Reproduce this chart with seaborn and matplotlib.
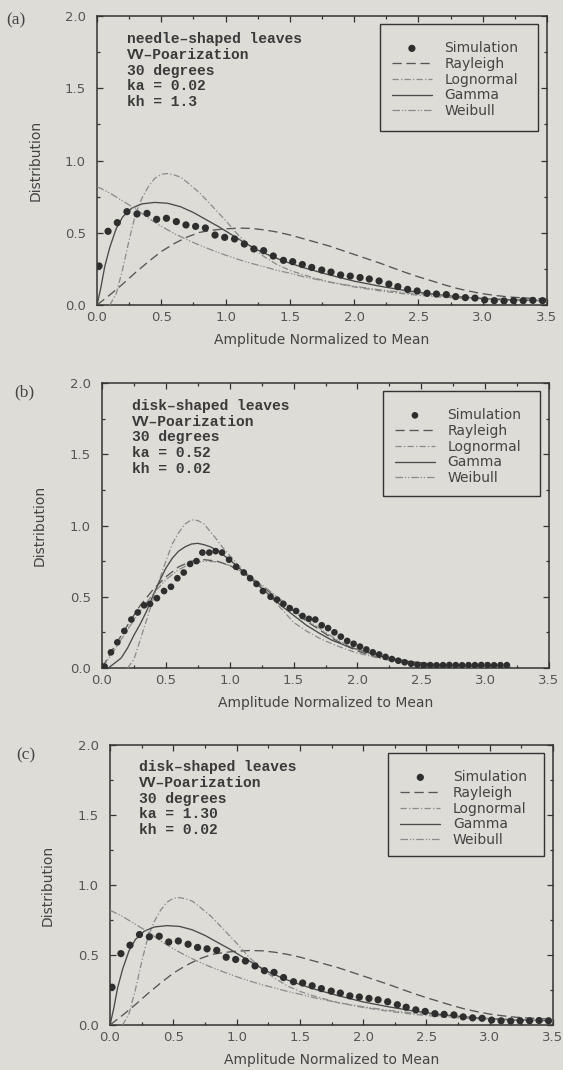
import matplotlib
matplotlib.use("Agg")
import matplotlib.pyplot as plt
import seaborn as sns
from matplotlib.patches import Rectangle
from matplotlib.ticker import MultipleLocator

# ---------------- data ----------------
# panel (a): needle-shaped leaves, ka = 0.02, kh = 1.3
sim_a_x = [0.016, 0.086, 0.158, 0.233, 0.311, 0.389, 0.464, 0.540, 0.617, 0.692,
           0.767, 0.843, 0.918, 0.993, 1.070, 1.146, 1.220, 1.296, 1.371, 1.450,
           1.522, 1.597, 1.670, 1.748, 1.820, 1.895, 1.970, 2.046, 2.118, 2.194,
           2.270, 2.340, 2.416, 2.490, 2.567, 2.640, 2.717, 2.790, 2.865, 2.940,
           3.015, 3.090, 3.166, 3.240, 3.315, 3.390, 3.465]
sim_a_y = [0.27, 0.51, 0.57, 0.646, 0.63, 0.634, 0.593, 0.600, 0.577, 0.554,
           0.544, 0.533, 0.484, 0.468, 0.457, 0.422, 0.388, 0.376, 0.339, 0.309,
           0.300, 0.280, 0.260, 0.242, 0.228, 0.208, 0.200, 0.190, 0.180, 0.166,
           0.145, 0.127, 0.108, 0.097, 0.081, 0.076, 0.072, 0.058, 0.051, 0.048,
           0.035, 0.030, 0.028, 0.030, 0.030, 0.032, 0.030]

ray_a_x = [0.0, 0.1, 0.2, 0.3, 0.4, 0.5, 0.6, 0.7, 0.8, 0.9, 1.0, 1.1, 1.2, 1.3,
           1.4, 1.5, 1.6, 1.7, 1.8, 1.9, 2.0, 2.1, 2.2, 2.3, 2.4, 2.5, 2.6, 2.7,
           2.8, 2.9, 3.0, 3.1, 3.2, 3.3, 3.4, 3.5]
ray_a_y = [0.0, 0.07, 0.145, 0.225, 0.30, 0.37, 0.425, 0.47, 0.503, 0.518, 0.527,
           0.532, 0.530, 0.520, 0.505, 0.485, 0.46, 0.435, 0.41, 0.38, 0.35, 0.32,
           0.29, 0.257, 0.225, 0.195, 0.168, 0.14, 0.115, 0.095, 0.078, 0.066,
           0.056, 0.05, 0.045, 0.042]

logn_a_x = [0.10, 0.15, 0.20, 0.25, 0.30, 0.35, 0.40, 0.45, 0.50, 0.55, 0.60, 0.65,
            0.70, 0.80, 0.90, 1.00, 1.10, 1.20, 1.30, 1.40, 1.50, 1.60, 1.80, 2.00,
            2.20, 2.40, 2.60, 2.80, 3.00, 3.20, 3.50]
logn_a_y = [0.0, 0.08, 0.25, 0.45, 0.63, 0.74, 0.82, 0.877, 0.905, 0.91, 0.90, 0.885,
            0.85, 0.775, 0.68, 0.585, 0.483, 0.40, 0.335, 0.28, 0.24, 0.21, 0.16, 0.125,
            0.098, 0.076, 0.06, 0.048, 0.04, 0.034, 0.028]

gam_a_x = [0.0, 0.03, 0.06, 0.10, 0.15, 0.20, 0.27, 0.35, 0.45, 0.55, 0.65, 0.75,
           0.85, 0.95, 1.05, 1.15, 1.25, 1.35, 1.45, 1.60, 1.80, 2.00, 2.20, 2.40,
           2.60, 2.80, 3.00, 3.20, 3.50]
gam_a_y = [0.0, 0.12, 0.265, 0.40, 0.53, 0.61, 0.67, 0.70, 0.71, 0.704, 0.68, 0.64,
           0.59, 0.54, 0.485, 0.43, 0.38, 0.34, 0.305, 0.26, 0.21, 0.165, 0.13, 0.10,
           0.076, 0.058, 0.045, 0.037, 0.03]

weib_a_x = [0.0, 0.1, 0.2, 0.3, 0.4, 0.5, 0.6, 0.7, 0.8, 0.9, 1.0, 1.1, 1.2, 1.3,
            1.4, 1.5, 1.6, 1.8, 2.0, 2.2, 2.4, 2.6, 2.8, 3.0, 3.2, 3.5]
weib_a_y = [0.82, 0.775, 0.72, 0.665, 0.60, 0.545, 0.495, 0.452, 0.413, 0.378, 0.345,
            0.315, 0.288, 0.265, 0.24, 0.22, 0.197, 0.16, 0.13, 0.105, 0.085, 0.068,
            0.055, 0.045, 0.037, 0.028]

# panel (b): disk-shaped leaves, ka = 0.52, kh = 0.02
sim_b_x = [0.02, 0.07, 0.12, 0.175, 0.23, 0.28, 0.33, 0.376, 0.43, 0.486, 0.54, 0.59,
           0.64, 0.69, 0.74, 0.786, 0.84, 0.89, 0.94, 0.995, 1.05, 1.11, 1.16, 1.21,
           1.26, 1.32, 1.37, 1.42, 1.47, 1.52, 1.57, 1.62, 1.67, 1.72, 1.77, 1.82,
           1.87, 1.92, 1.97, 2.02, 2.07, 2.12, 2.17, 2.22, 2.27, 2.32, 2.37, 2.42,
           2.47, 2.52, 2.57, 2.62, 2.67, 2.72, 2.77, 2.82, 2.87, 2.92, 2.97, 3.02,
           3.07, 3.12, 3.17]
sim_b_y = [0.01, 0.11, 0.18, 0.26, 0.34, 0.39, 0.44, 0.45, 0.49, 0.54, 0.57, 0.63,
           0.67, 0.73, 0.75, 0.81, 0.81, 0.82, 0.81, 0.76, 0.71, 0.67, 0.63, 0.59,
           0.54, 0.50, 0.48, 0.45, 0.42, 0.40, 0.365, 0.345, 0.34, 0.30, 0.28, 0.25,
           0.22, 0.19, 0.17, 0.15, 0.13, 0.11, 0.095, 0.078, 0.063, 0.051, 0.040, 0.030,
           0.023, 0.020, 0.020, 0.019, 0.020, 0.021, 0.020, 0.019, 0.020, 0.020, 0.021,
           0.020, 0.019, 0.020, 0.020]

ray_b_x = [0.0, 0.1, 0.2, 0.3, 0.4, 0.5, 0.6, 0.7, 0.8, 0.9, 1.0, 1.1, 1.2, 1.3, 1.4,
           1.5, 1.6, 1.7, 1.8, 1.9, 2.0, 2.1, 2.2, 2.3, 2.4, 2.5, 2.6, 2.7, 2.8, 2.9,
           3.0, 3.1, 3.2]
ray_b_y = [0.0, 0.155, 0.30, 0.44, 0.55, 0.64, 0.71, 0.75, 0.76, 0.75, 0.72, 0.67,
           0.61, 0.54, 0.47, 0.40, 0.33, 0.27, 0.21, 0.16, 0.12, 0.09, 0.067, 0.048,
           0.034, 0.024, 0.016, 0.011, 0.007, 0.005, 0.003, 0.002, 0.001]

logn_b_x = [0.20, 0.25, 0.30, 0.35, 0.40, 0.45, 0.50, 0.55, 0.60, 0.65, 0.70, 0.75,
            0.80, 0.85, 0.90, 0.95, 1.00, 1.10, 1.20, 1.30, 1.40, 1.50, 1.60, 1.70,
            1.80, 1.90, 2.00, 2.20, 2.40, 2.60, 2.80, 3.00, 3.20]
logn_b_y = [0.0, 0.06, 0.20, 0.34, 0.48, 0.62, 0.75, 0.87, 0.95, 1.01, 1.04, 1.035,
            1.01, 0.955, 0.90, 0.84, 0.79, 0.69, 0.61, 0.52, 0.42, 0.32, 0.26, 0.21,
            0.17, 0.135, 0.105, 0.062, 0.035, 0.02, 0.011, 0.006, 0.003]

gam_b_x = [0.05, 0.10, 0.15, 0.20, 0.25, 0.30, 0.35, 0.40, 0.45, 0.50, 0.55, 0.60,
           0.65, 0.70, 0.75, 0.80, 0.85, 0.90, 1.00, 1.10, 1.20, 1.30, 1.40, 1.50,
           1.60, 1.70, 1.80, 1.90, 2.00, 2.20, 2.40, 2.60, 2.80, 3.00, 3.20]
gam_b_y = [0.0, 0.035, 0.07, 0.14, 0.23, 0.31, 0.40, 0.51, 0.61, 0.70, 0.77, 0.82,
           0.85, 0.87, 0.875, 0.865, 0.85, 0.825, 0.76, 0.68, 0.60, 0.52, 0.44, 0.37,
           0.30, 0.245, 0.195, 0.16, 0.13, 0.078, 0.046, 0.026, 0.014, 0.008, 0.004]

weib_b_x = [0.0, 0.1, 0.2, 0.3, 0.4, 0.5, 0.6, 0.7, 0.8, 0.9, 1.0, 1.1, 1.2, 1.3, 1.4,
            1.5, 1.6, 1.7, 1.8, 1.9, 2.0, 2.1, 2.2, 2.3, 2.4, 2.5, 2.6, 2.7, 2.8, 2.9,
            3.0, 3.1, 3.2]
weib_b_y = [0.0, 0.13, 0.27, 0.40, 0.52, 0.62, 0.69, 0.735, 0.75, 0.745, 0.72, 0.675,
            0.615, 0.55, 0.48, 0.41, 0.34, 0.28, 0.22, 0.17, 0.13, 0.095, 0.07, 0.05,
            0.035, 0.024, 0.016, 0.01, 0.006, 0.004, 0.002, 0.001, 0.0]

# panel (c): disk-shaped leaves, ka = 1.30, kh = 0.02 (same curves as panel (a) in the picture)
sim_c_x, sim_c_y = sim_a_x, sim_a_y
ray_c_x, ray_c_y = ray_a_x, ray_a_y
logn_c_x, logn_c_y = logn_a_x, logn_a_y
gam_c_x, gam_c_y = gam_a_x, gam_a_y
weib_c_x, weib_c_y = weib_a_x, weib_a_y

panel_letters = ["(a)", "(b)", "(c)"]
panel_notes = [
    ["needle\u2013shaped leaves", "VV\u2013Poarization", "30 degrees", "ka = 0.02", "kh = 1.3"],
    ["disk\u2013shaped leaves", "VV\u2013Poarization", "30 degrees", "ka = 0.52", "kh = 0.02"],
    ["disk\u2013shaped leaves", "VV\u2013Poarization", "30 degrees", "ka = 1.30", "kh = 0.02"],
]
series_names = ["Simulation", "Rayleigh", "Lognormal", "Gamma", "Weibull"]
x_label = "Amplitude Normalized to Mean"
y_label = "Distribution"

# ---------------- style ----------------
sns.set_style("ticks")
BG = "#dddcd7"
INK = "#333333"
plt.rcParams["font.family"] = ["DejaVu Sans"]
plt.rcParams["figure.facecolor"] = BG
plt.rcParams["axes.facecolor"] = BG
plt.rcParams["savefig.facecolor"] = BG

W, H = 563, 1070
fig = plt.figure(figsize=(W / 100, H / 100), dpi=100)

# axes frames in pixels: left, right, top, bottom
frames = [(97, 547, 16, 305), (102, 549, 383, 668), (110, 553, 745, 1025)]
letter_pos = [(16, 20), (24, 392), (26, 755)]

styles = {
    "Rayleigh": dict(ls=(0, (7.0, 3.6)), color="#555555", lw=0.95),
    "Lognormal": dict(ls=(0, (5.0, 1.8, 1.0, 1.8)), color="#8a8a8a", lw=0.9),
    "Gamma": dict(ls="-", color="#4a4a4a", lw=0.95),
    "Weibull": dict(ls=(0, (6.0, 1.6, 1.0, 1.4, 1.0, 1.6)), color="#8a8a8a", lw=0.9),
}

data = [
    (sim_a_x, sim_a_y, [(ray_a_x, ray_a_y), (logn_a_x, logn_a_y), (gam_a_x, gam_a_y), (weib_a_x, weib_a_y)]),
    (sim_b_x, sim_b_y, [(ray_b_x, ray_b_y), (logn_b_x, logn_b_y), (gam_b_x, gam_b_y), (weib_b_x, weib_b_y)]),
    (sim_c_x, sim_c_y, [(ray_c_x, ray_c_y), (logn_c_x, logn_c_y), (gam_c_x, gam_c_y), (weib_c_x, weib_c_y)]),
]

for i, ((l, r, t, b), (sx, sy, curves)) in enumerate(zip(frames, data)):
    ax = fig.add_axes([l / W, 1 - b / H, (r - l) / W, (b - t) / H])
    ax.set_facecolor(BG)
    dot_size = 27 if i != 1 else 23
    sns.scatterplot(x=sx, y=sy, ax=ax, color="#2e2e2e", s=dot_size, edgecolor="none",
                    label=series_names[0], zorder=4)
    for name, (cx, cy) in zip(series_names[1:], curves):
        st = styles[name]
        sns.lineplot(x=cx, y=cy, ax=ax, color=st["color"], linestyle=st["ls"],
                     linewidth=st["lw"], label=name, estimator=None, sort=False, zorder=3)

    ax.set_xlim(0, 3.5)
    ax.set_ylim(0, 2.0)
    ax.xaxis.set_major_locator(MultipleLocator(0.5))
    ax.xaxis.set_minor_locator(MultipleLocator(0.25))
    ax.yaxis.set_major_locator(MultipleLocator(0.5))
    ax.yaxis.set_minor_locator(MultipleLocator(0.25))
    ax.tick_params(which="both", direction="in", top=True, right=True, color=INK, width=0.9)
    ax.tick_params(which="major", length=4.5)
    ax.tick_params(which="minor", length=2.5)
    ax.tick_params(axis="x", which="major", labelsize=9.5, labelcolor="#555555", pad=4)
    ax.tick_params(axis="y", which="major", labelsize=9.5, labelcolor="#555555", pad=8)
    for sp in ax.spines.values():
        sp.set_color(INK)
        sp.set_linewidth(1.1)
        sp.set_visible(True)

    ax.set_xlabel(x_label, fontsize=10, color="#444444")
    ax.set_ylabel(y_label, fontsize=10, color="#444444")
    hpx = b - t
    ax.xaxis.set_label_coords(0.5, -35 / hpx)
    ax.xaxis.label.set_va("center")
    ylab_x = [36, 40, 48][i]
    ax.yaxis.set_label_coords((ylab_x - l) / (r - l), 0.5)
    ax.yaxis.label.set_va("center")

    # legend
    handles, labels = ax.get_legend_handles_labels()
    leg = ax.legend(handles, labels, loc="upper left",
                    bbox_to_anchor=(0.655, 1 - 25 / hpx), frameon=False,
                    borderaxespad=0, borderpad=0, handlelength=2.9, handletextpad=0.9,
                    labelspacing=0.13, fontsize=10)
    for txt in leg.get_texts():
        txt.set_color("#444444")
    ax.add_patch(Rectangle((0.628, 0.602), 0.352, 0.370, transform=ax.transAxes,
                           fill=False, edgecolor=INK, linewidth=1.0, zorder=5))

    # annotation text
    first = 0.92
    step = 15.7 / hpx
    for k, line in enumerate(panel_notes[i]):
        ax.text(0.066, first - k * step, line, transform=ax.transAxes,
                ha="left", va="center", fontsize=10.5, family="Liberation Mono",
                fontweight="bold", color="#3a3a3a")

    lx, ly = letter_pos[i]
    fig.text(lx / W, 1 - ly / H, panel_letters[i], ha="center", va="center",
             fontsize=12.5, family="Liberation Serif", color="#444444")

fig.savefig("out.png", dpi=100, facecolor=BG)
